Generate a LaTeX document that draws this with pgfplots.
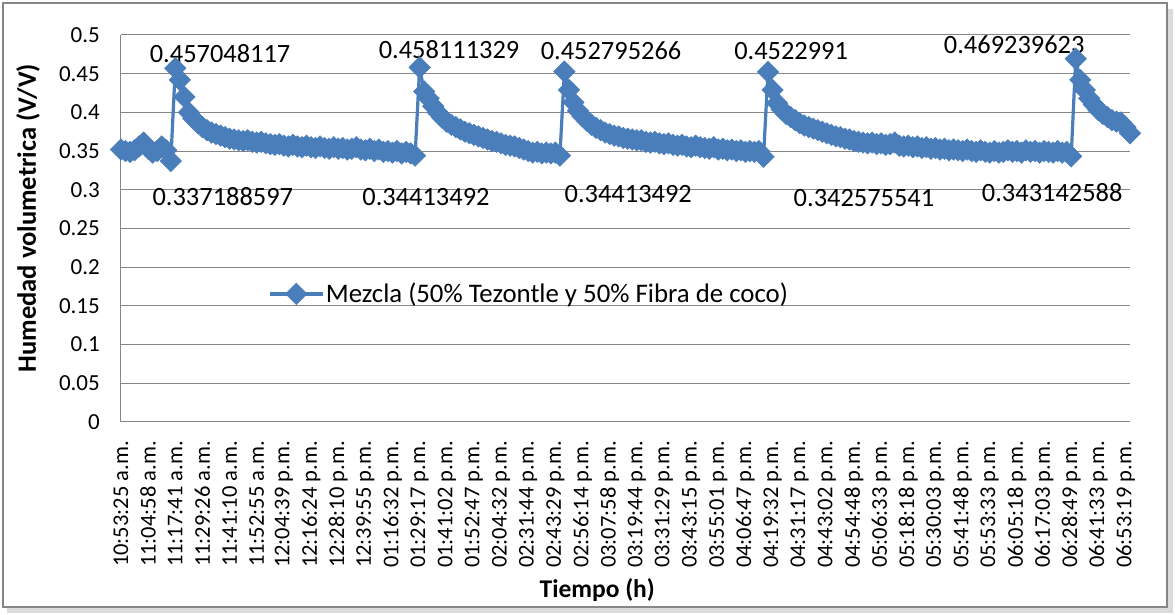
\documentclass[border=0pt]{standalone}
\usepackage{pgfplots}
\pgfplotsset{compat=1.18}
\usepackage{fontspec}
\setmainfont{Carlito}
\definecolor{serie}{HTML}{4A7EBB}
\definecolor{gridc}{HTML}{868686}
\newcommand{\yfont}{\fontsize{23bp}{27bp}\selectfont}
\newcommand{\xfont}{\fontsize{22.5bp}{26bp}\selectfont}
\newcommand{\lfont}{\fontsize{26.8bp}{30bp}\selectfont}
\newcommand{\dfont}{\fontsize{26.4bp}{30bp}\selectfont}
\begin{document}
\begin{tikzpicture}[x=1bp,y=1bp]
\begin{axis}[
  scale only axis, width=1009bp, height=387bp,
  xmin=0, xmax=223, ymin=0, ymax=0.5,
  clip=false,
  axis x line*=bottom, axis y line*=left,
  axis line style={draw=gridc, line width=1bp},
  ymajorgrids, grid style={draw=gridc, line width=1bp},
  major tick length=0pt,
  ytick={0,0.05,0.1,0.15,0.2,0.25,0.3,0.35,0.4,0.45,0.5},
  yticklabels={0,0.05,0.1,0.15,0.2,0.25,0.3,0.35,0.4,0.45,0.5},
  yticklabel style={font=\yfont, anchor=east, inner sep=0pt, xshift=-21bp},
  xtick={0,6,...,222},
  xticklabels={10:53:25 a.m.,11:04:58 a.m.,11:17:41 a.m.,11:29:26 a.m.,11:41:10 a.m.,11:52:55 a.m.,12:04:39 p.m.,12:16:24 p.m.,12:28:10 p.m.,12:39:55 p.m.,01:16:32 p.m.,01:29:17 p.m.,01:41:02 p.m.,01:52:47 p.m.,02:04:32 p.m.,02:31:44 p.m.,02:43:29 p.m.,02:56:14 p.m.,03:07:58 p.m.,03:19:44 p.m.,03:31:29 p.m.,03:43:15 p.m.,03:55:01 p.m.,04:06:47 p.m.,04:19:32 p.m.,04:31:17 p.m.,04:43:02 p.m.,04:54:48 p.m.,05:06:33 p.m.,05:18:18 p.m.,05:30:03 p.m.,05:41:48 p.m.,05:53:33 p.m.,06:05:18 p.m.,06:17:03 p.m.,06:28:49 p.m.,06:41:33 p.m.,06:53:19 p.m.},
  xticklabel style={font=\xfont, inner sep=0pt, yshift=-19bp, rotate=90, anchor=east},
  xlabel={Tiempo (h)},
  xlabel style={font=\fontsize{25.5bp}{30bp}\selectfont\bfseries, at={(axis description cs:0.472,0)}, anchor=center, yshift=-168bp},
  ylabel={Humedad volumetrica (V/V)},
  ylabel style={font=\fontsize{26.5bp}{31bp}\selectfont\bfseries, at={(axis description cs:-0.0922,0.527)}, anchor=center},
  legend style={at={(0.1457,0.331)}, anchor=west, draw=none, fill=none, inner sep=0pt, font=\lfont, nodes={inner sep=1.5bp}},
  legend image code/.code={\draw[mark repeat=2,mark phase=2,#1] plot coordinates {(0bp,0bp) (26.5bp,0bp) (53bp,0bp)};},
]
\addplot[color=serie, line width=3.2bp, mark=square*, mark size=7.6bp,
  mark options={rotate=45, solid, fill=serie, draw=serie, line width=0.5bp}]
coordinates {
(0,0.352) (1,0.350) (2,0.349) (3,0.351) (4,0.356) (5,0.361) (6,0.353) (7,0.348) (8,0.350) (9,0.356)
(10,0.351) (11,0.337188597) (12,0.457048117) (13,0.442) (14,0.420) (15,0.400) (16,0.392) (17,0.386) (18,0.381) (19,0.377)
(20,0.374) (21,0.372) (22,0.370) (23,0.368) (24,0.366) (25,0.365) (26,0.364) (27,0.363) (28,0.364) (29,0.362)
(30,0.361) (31,0.362) (32,0.360) (33,0.359) (34,0.358) (35,0.359) (36,0.357) (37,0.356) (38,0.358) (39,0.356)
(40,0.355) (41,0.357) (42,0.355) (43,0.354) (44,0.356) (45,0.354) (46,0.353) (47,0.355) (48,0.353) (49,0.354)
(50,0.352) (51,0.353) (52,0.355) (53,0.352) (54,0.351) (55,0.353) (56,0.350) (57,0.352) (58,0.349) (59,0.350)
(60,0.348) (61,0.350) (62,0.347) (63,0.349) (64,0.347) (65,0.34413492) (66,0.458111329) (67,0.427) (68,0.418) (69,0.408)
(70,0.400) (71,0.393) (72,0.388) (73,0.384) (74,0.381) (75,0.378) (76,0.375) (77,0.373) (78,0.371) (79,0.369)
(80,0.367) (81,0.365) (82,0.363) (83,0.362) (84,0.360) (85,0.358) (86,0.357) (87,0.356) (88,0.354) (89,0.352)
(90,0.350) (91,0.348) (92,0.349) (93,0.347) (94,0.348) (95,0.347) (96,0.348) (97,0.34413492) (98,0.452795266) (99,0.429)
(100,0.413) (101,0.402) (102,0.395) (103,0.389) (104,0.384) (105,0.380) (106,0.377) (107,0.374) (108,0.372) (109,0.370)
(110,0.369) (111,0.367) (112,0.366) (113,0.365) (114,0.364) (115,0.364) (116,0.362) (117,0.361) (118,0.362) (119,0.360)
(120,0.359) (121,0.360) (122,0.358) (123,0.357) (124,0.358) (125,0.356) (126,0.355) (127,0.357) (128,0.355) (129,0.354)
(130,0.353) (131,0.355) (132,0.352) (133,0.353) (134,0.351) (135,0.352) (136,0.350) (137,0.351) (138,0.349) (139,0.350)
(140,0.349) (141,0.350) (142,0.342575541) (143,0.4522991) (144,0.429) (145,0.412) (146,0.404) (147,0.398) (148,0.394) (149,0.390)
(150,0.386) (151,0.383) (152,0.381) (153,0.379) (154,0.377) (155,0.375) (156,0.373) (157,0.371) (158,0.369) (159,0.368)
(160,0.366) (161,0.365) (162,0.363) (163,0.362) (164,0.361) (165,0.360) (166,0.361) (167,0.359) (168,0.360) (169,0.358)
(170,0.359) (171,0.361) (172,0.357) (173,0.356) (174,0.357) (175,0.355) (176,0.356) (177,0.354) (178,0.355) (179,0.353)
(180,0.354) (181,0.352) (182,0.353) (183,0.351) (184,0.352) (185,0.351) (186,0.350) (187,0.352) (188,0.350) (189,0.349)
(190,0.351) (191,0.349) (192,0.348) (193,0.350) (194,0.348) (195,0.349) (196,0.351) (197,0.349) (198,0.350) (199,0.348)
(200,0.351) (201,0.349) (202,0.350) (203,0.348) (204,0.350) (205,0.349) (206,0.348) (207,0.350) (208,0.348) (209,0.349)
(210,0.343142588) (211,0.469239623) (212,0.442) (213,0.429) (214,0.418) (215,0.410) (216,0.403) (217,0.398) (218,0.394) (219,0.390)
(220,0.388) (221,0.387) (222,0.381) (223,0.373)
};
\addlegendentry{Mezcla (50\% Tezontle y 50\% Fibra de coco)}
\node[font=\dfont] at (axis cs:21.9,0.4761) {0.457048117};
\node[font=\dfont] at (axis cs:22.5,0.2907) {0.337188597};
\node[font=\dfont] at (axis cs:72.5,0.4806) {0.458111329};
\node[font=\dfont] at (axis cs:67.4,0.2907) {0.34413492};
\node[font=\dfont] at (axis cs:108.3,0.4793) {0.452795266};
\node[font=\dfont] at (axis cs:112.1,0.2946) {0.34413492};
\node[font=\dfont] at (axis cs:148.1,0.4793) {0.4522991};
\node[font=\dfont] at (axis cs:164.2,0.2894) {0.342575541};
\node[font=\dfont] at (axis cs:197.4,0.4871) {0.469239623};
\node[font=\dfont] at (axis cs:205.8,0.2959) {0.343142588};
\coordinate (O) at (rel axis cs:0,0);
\end{axis}
\pgfresetboundingbox
\path[use as bounding box, shift={(O)}] (-121,-193) rectangle (1054,422);
\begin{scope}[shift={(O)}]
\fill[black!14] (1046,-191) rectangle (1052,413);
\fill[black!14] (-114,-191) rectangle (1052,-185);
\draw[gridc, line width=1.3bp] (-118,-185) rectangle (1046,419);
\end{scope}
\end{tikzpicture}
\end{document}
